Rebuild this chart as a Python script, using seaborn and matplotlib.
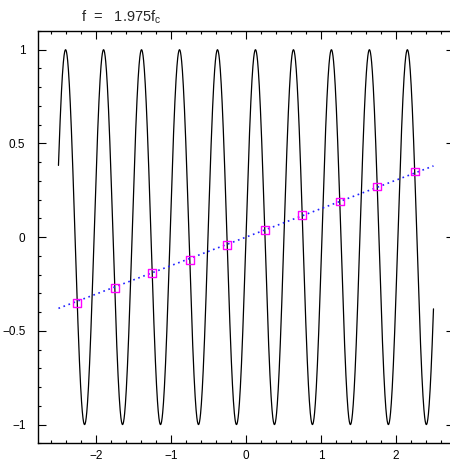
import numpy as np
import pandas as pd
import matplotlib
matplotlib.use("Agg")
import matplotlib.pyplot as plt
import seaborn as sns
from matplotlib.ticker import MultipleLocator

# signal frequency (in units of the critical frequency f_c = 1)
freq = 1.975
t_start, t_end = -2.5, 2.5

sample_t = [-2.25, -1.75, -1.25, -0.75, -0.25, 0.25, 0.75, 1.25, 1.75, 2.25]
sample_y = [-0.35, -0.27, -0.19, -0.12, -0.04, 0.04, 0.12, 0.19, 0.27, 0.35]

# aliased (low frequency) line through the samples
alias_t = [-2.5, 2.5]
alias_y = [-0.38, 0.38]

t = np.linspace(t_start, t_end, 2001)
signal = pd.DataFrame({"t": t, "y": np.sin(2 * np.pi * freq * t)})
samples = pd.DataFrame({"t": sample_t, "y": sample_y})
alias = pd.DataFrame({"t": alias_t, "y": alias_y})

sns.set_style("ticks")
plt.rcParams["font.family"] = ["Liberation Sans", "DejaVu Sans"]

fig = plt.figure(figsize=(4.5, 4.61), dpi=100)
ax = fig.add_axes([0.0844, 0.0384, 0.9244, 0.8944])

sns.lineplot(data=signal, x="t", y="y", ax=ax, color="black", linewidth=0.9)
sns.lineplot(data=alias, x="t", y="y", ax=ax, color="#2020ff", linewidth=1.2,
             linestyle=(0, (1, 2.2)))
sns.scatterplot(data=samples, x="t", y="y", ax=ax, marker="s", s=32,
                facecolor="none", edgecolor="#ff00ff", linewidth=1.0, zorder=5)

ax.set_xlim(-2.773, 2.773)
ax.set_ylim(-1.1, 1.1)
ax.set_xlabel("")
ax.set_ylabel("")
ax.xaxis.set_minor_locator(MultipleLocator(0.2))
ax.yaxis.set_minor_locator(MultipleLocator(0.1))
ax.set_yticks([-1, -0.5, 0, 0.5, 1])
ax.set_yticklabels(["\u22121", "\u22120.5", "0", "0.5", "1"])
ax.set_xticks([-2, -1, 0, 1, 2])
ax.set_xticklabels(["\u22122", "\u22121", "0", "1", "2"])

ax.tick_params(which="both", direction="in", top=True, right=True,
               colors="black", labelsize=8.5)
ax.tick_params(which="major", length=5.5, width=0.8)
ax.tick_params(which="minor", length=2.5, width=0.8)
ax.tick_params(axis="y", pad=9)
ax.tick_params(axis="x", pad=5)
for s in ax.spines.values():
    s.set_color("black")
    s.set_linewidth(1.0)

fig.text(81 / 450, 1 - 21 / 461, r"f  =   1.975f$_\mathregular{c}$",
         ha="left", va="baseline", fontsize=10.5)

fig.savefig("out.png", dpi=100)
